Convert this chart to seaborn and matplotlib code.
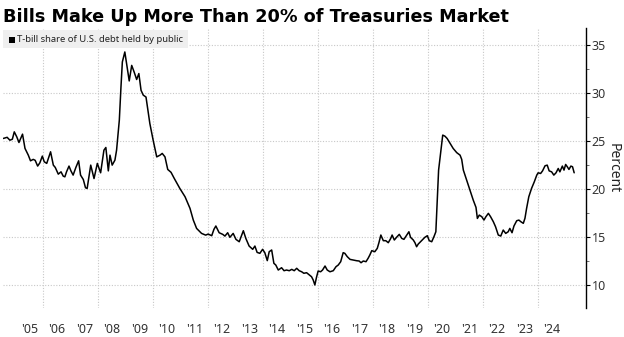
import numpy as np
import pandas as pd
import matplotlib
matplotlib.use("Agg")
import matplotlib.pyplot as plt
import seaborn as sns
from matplotlib.ticker import MultipleLocator, FixedLocator

# ---- data (decimal year, percent) ----
years = [
    2004.54, 2004.68, 2004.78, 2004.87, 2004.94, 2005.03, 2005.11, 2005.24, 2005.33, 2005.45,
    2005.53, 2005.63, 2005.70, 2005.79, 2005.87, 2005.96, 2006.03, 2006.12, 2006.26, 2006.36,
    2006.43, 2006.54, 2006.64, 2006.72, 2006.78, 2006.84, 2006.93, 2007.00, 2007.08, 2007.18,
    2007.28, 2007.35, 2007.45, 2007.53, 2007.59, 2007.72, 2007.84, 2007.96, 2008.08, 2008.20,
    2008.27, 2008.36, 2008.42, 2008.50, 2008.60, 2008.66, 2008.76, 2008.82, 2008.87, 2008.96,
    2009.06, 2009.12, 2009.21, 2009.30, 2009.39, 2009.47, 2009.55, 2009.63, 2009.73, 2009.87,
    2009.99, 2010.12, 2010.24, 2010.32, 2010.42, 2010.52, 2010.64, 2010.76, 2010.96, 2011.15,
    2011.33, 2011.45, 2011.57, 2011.75, 2011.90, 2011.99, 2012.12, 2012.20, 2012.27, 2012.39,
    2012.52, 2012.60, 2012.70, 2012.78, 2012.90, 2013.00, 2013.12, 2013.27, 2013.36, 2013.48,
    2013.61, 2013.69, 2013.77, 2013.87, 2013.97, 2014.05, 2014.14, 2014.21, 2014.30, 2014.38,
    2014.45, 2014.54, 2014.66, 2014.75, 2014.84, 2014.94, 2015.03, 2015.12, 2015.21, 2015.30,
    2015.39, 2015.47, 2015.57, 2015.67, 2015.75, 2015.81, 2015.87, 2015.93, 2015.99, 2016.08,
    2016.15, 2016.24, 2016.32, 2016.42, 2016.54, 2016.64, 2016.72, 2016.81, 2016.90, 2016.96,
    2017.05, 2017.15, 2017.27, 2017.39, 2017.48, 2017.55, 2017.63, 2017.73, 2017.81, 2017.87,
    2017.94, 2018.05, 2018.14, 2018.20, 2018.27, 2018.36, 2018.45, 2018.54, 2018.63, 2018.68,
    2018.76, 2018.84, 2018.94, 2019.03, 2019.11, 2019.21, 2019.29, 2019.35, 2019.45, 2019.51,
    2019.57, 2019.63, 2019.75, 2019.87, 2019.96, 2020.03, 2020.12, 2020.20, 2020.27, 2020.32,
    2020.37, 2020.44, 2020.52, 2020.60, 2020.68, 2020.78, 2020.90, 2021.03, 2021.15, 2021.21,
    2021.27, 2021.39, 2021.51, 2021.63, 2021.73, 2021.78, 2021.85, 2021.94, 2022.02, 2022.09,
    2022.18, 2022.26, 2022.36, 2022.44, 2022.54, 2022.63, 2022.72, 2022.81, 2022.90, 2022.96,
    2023.04, 2023.11, 2023.21, 2023.29, 2023.36, 2023.45, 2023.51, 2023.57, 2023.65, 2023.75,
    2023.85, 2023.94, 2023.99, 2024.08, 2024.15, 2024.24, 2024.32, 2024.39, 2024.48, 2024.56,
    2024.64, 2024.72, 2024.78, 2024.87, 2024.93, 2024.99, 2025.05, 2025.11, 2025.18, 2025.24,
    2025.30,
]
share = [
    25.28, 25.40, 25.10, 25.20, 25.97, 25.45, 24.86, 25.73, 24.24, 23.54,
    22.95, 23.10, 23.00, 22.40, 22.74, 23.44, 22.85, 22.68, 23.89, 22.50,
    22.26, 21.56, 21.80, 21.35, 21.28, 21.80, 22.40, 21.90, 21.46, 22.26,
    22.95, 21.46, 21.00, 20.14, 20.07, 22.50, 21.10, 22.68, 21.70, 24.06,
    24.34, 21.90, 23.54, 22.50, 23.02, 24.06, 27.19, 30.66, 33.26, 34.30,
    32.40, 31.28, 32.90, 32.20, 31.43, 32.05, 30.30, 29.80, 29.60, 26.84,
    25.10, 23.36, 23.54, 23.72, 23.36, 22.05, 21.75, 21.10, 20.07, 19.20,
    17.99, 16.77, 15.90, 15.38, 15.20, 15.31, 15.14, 15.80, 16.15, 15.45,
    15.28, 15.10, 15.45, 14.97, 15.38, 14.76, 14.51, 15.66, 14.86, 14.06,
    13.72, 14.06, 13.40, 13.30, 13.72, 13.37, 12.54, 13.47, 13.65, 12.26,
    12.08, 11.56, 11.80, 11.49, 11.56, 11.49, 11.63, 11.49, 11.74, 11.49,
    11.38, 11.22, 11.28, 11.04, 10.86, 10.52, 10.00, 10.80, 11.46, 11.38,
    11.56, 11.98, 11.56, 11.38, 11.49, 11.91, 12.08, 12.43, 13.37, 13.30,
    12.95, 12.67, 12.60, 12.53, 12.50, 12.32, 12.50, 12.43, 12.80, 13.13,
    13.58, 13.47, 13.82, 14.41, 15.21, 14.62, 14.62, 14.41, 14.86, 15.21,
    14.69, 14.97, 15.28, 14.86, 14.76, 15.21, 15.55, 14.97, 14.69, 14.41,
    13.99, 14.27, 14.62, 14.97, 15.14, 14.62, 14.51, 15.03, 15.55, 18.85,
    21.98, 23.72, 25.63, 25.52, 25.28, 24.80, 24.24, 23.80, 23.54, 23.10,
    21.98, 20.94, 19.90, 18.85, 18.09, 16.94, 17.29, 17.12, 16.77, 17.12,
    17.47, 17.12, 16.60, 16.08, 15.21, 15.10, 15.73, 15.38, 15.55, 15.90,
    15.45, 16.15, 16.70, 16.77, 16.60, 16.43, 16.95, 17.99, 19.20, 20.07,
    20.76, 21.46, 21.70, 21.63, 21.90, 22.43, 22.50, 21.90, 21.80, 21.46,
    21.70, 22.15, 21.80, 22.40, 21.98, 22.57, 22.33, 22.05, 22.40, 22.33,
    21.70,
]
year_labels = ["'05", "'06", "'07", "'08", "'09", "'10", "'11", "'12", "'13", "'14",
               "'15", "'16", "'17", "'18", "'19", "'20", "'21", "'22", "'23", "'24"]
y_ticks = [10, 15, 20, 25, 30, 35]

df = pd.DataFrame({"year": years, "share": share})

sns.set_theme(style="white")
plt.rcParams["font.family"] = ["Noto Sans", "DejaVu Sans"]

fig = plt.figure(figsize=(6.24, 3.37), dpi=100)
ax = fig.add_axes([3 / 624, 1 - 308 / 337, 583 / 624, 280 / 337])

sns.lineplot(data=df, x="year", y="share", ax=ax, color="black", linewidth=1.1)

ax.set_xlim(2004.53, 2025.73)
ax.set_ylim(7.6, 36.8)

# grid
for yv in y_ticks:
    ax.axhline(yv, color="#c8c8c8", linestyle=(0, (1, 1.5)), linewidth=0.8, zorder=0)
for xv in range(2006, 2025, 2):
    ax.axvline(xv, color="#c8c8c8", linestyle=(0, (1, 1.5)), linewidth=0.8, zorder=0)

# y axis on the right
for s in ["top", "left", "bottom"]:
    ax.spines[s].set_visible(False)
ax.spines["right"].set_visible(True)
ax.spines["right"].set_color("black")
ax.spines["right"].set_linewidth(1.0)
ax.yaxis.tick_right()
ax.yaxis.set_major_locator(FixedLocator(y_ticks))
ax.yaxis.set_minor_locator(MultipleLocator(2.5))
ax.tick_params(axis="y", which="major", right=True, length=3, width=0.8, color="black",
               labelsize=9, labelcolor="#333333", pad=1, direction="out")
ax.tick_params(axis="y", which="minor", right=True, length=2, width=0.6, color="#555555")
ax.yaxis.set_label_position("right")
ax.set_ylabel("Percent", rotation=270, fontsize=10, color="#222222", labelpad=11)

# x tick labels at mid-year, no tick marks
ax.set_xticks([2005.5 + i for i in range(len(year_labels))])
ax.set_xticklabels(year_labels)
ax.tick_params(axis="x", which="both", bottom=False, length=0, labelsize=9,
               labelcolor="#333333", pad=11)
ax.set_xlabel("")

# title
fig.text(3 / 624, 1 - 21.5 / 337, "Bills Make Up More Than 20% of Treasuries Market",
         fontsize=12.7, fontweight="bold", color="black", ha="left", va="baseline",
         family="DejaVu Sans")

# legend box
fig.patches.append(plt.Rectangle((3 / 624, 1 - 48 / 337), 185 / 624, 18 / 337,
                                 transform=fig.transFigure, facecolor="#efefef",
                                 edgecolor="none", zorder=5))
fig.patches.append(plt.Rectangle((9 / 624, 1 - 42.5 / 337), 6 / 624, 6 / 337,
                                 transform=fig.transFigure, facecolor="black",
                                 edgecolor="none", zorder=6))
fig.text(17 / 624, 1 - 39 / 337, "T-bill share of U.S. debt held by public",
         fontsize=6.8, color="#222222", ha="left", va="center", zorder=7)

fig.savefig("out.png", dpi=100)
